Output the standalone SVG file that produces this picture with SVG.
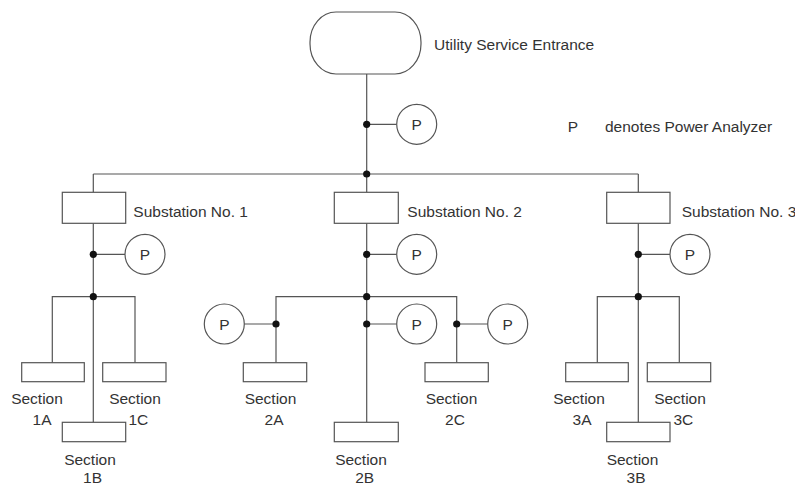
<svg xmlns="http://www.w3.org/2000/svg" width="795" height="485" viewBox="0 0 795 485">
<style>
.ln{stroke:#555;stroke-width:1.2;fill:none}
.bx{stroke:#555;stroke-width:1.2;fill:#fff}
.dot{fill:#111}
text{font-family:"Liberation Sans",Arial,sans-serif;font-size:15.5px;fill:#333}
.c{text-anchor:middle}
</style>
<rect width="795" height="485" fill="#fff"/>
<g id="connectors">
<path class="ln" d="M366.7,74V192.3M366.7,124.3H396.7M93.3,174H638.3M93.3,174V192.3M638.3,174V192.3"/>
<path class="ln" d="M93.3,223.3V422.3M93.3,254.3H125M52.3,362.7V296.7H135V362.7"/>
<path class="ln" d="M366.7,223.3V422.3M366.7,254.3H396.7M276,362.7V296.7H456.7V362.7M244.3,324H276M366.7,324H396.7M456.7,324H487.7"/>
<path class="ln" d="M638.3,223.3V422.3M638.3,254.3H670M597.3,362.7V296.7H679.3V362.7"/>
<circle class="dot" cx="366.7" cy="124.3" r="3.6"/>
<circle class="dot" cx="366.7" cy="174" r="3.6"/>
<circle class="dot" cx="93.3" cy="254.3" r="3.6"/>
<circle class="dot" cx="93.3" cy="296.7" r="3.6"/>
<circle class="dot" cx="366.7" cy="254.3" r="3.6"/>
<circle class="dot" cx="366.7" cy="296.7" r="3.6"/>
<circle class="dot" cx="276" cy="324" r="3.6"/>
<circle class="dot" cx="366.7" cy="324" r="3.6"/>
<circle class="dot" cx="456.7" cy="324" r="3.6"/>
<circle class="dot" cx="638.3" cy="254.3" r="3.6"/>
<circle class="dot" cx="638.3" cy="296.7" r="3.6"/>
</g>
<g id="utility">
<rect class="bx" x="310" y="12" width="111" height="62" rx="26" ry="30"/>
<text x="434" y="50">Utility Service Entrance</text>
</g>
<g id="legend">
<text x="567.7" y="132">P</text>
<text x="605" y="132">denotes Power Analyzer</text>
</g>
<g id="p0"><circle class="bx" cx="416.7" cy="124.3" r="20"/><text class="c" x="416.7" y="130">P</text></g>
<g id="sub1"><rect class="bx" x="62.3" y="192.3" width="63.4" height="31"/><text x="133.3" y="217">Substation No. 1</text></g>
<g id="sub2"><rect class="bx" x="334.3" y="192.3" width="64" height="31"/><text x="407.3" y="217">Substation No. 2</text></g>
<g id="sub3"><rect class="bx" x="606.7" y="192.3" width="63.3" height="31"/><text x="681.7" y="217">Substation No. 3</text></g>
<g id="p1"><circle class="bx" cx="145" cy="254.3" r="20"/><text class="c" x="145" y="260">P</text></g>
<g id="p2"><circle class="bx" cx="416.7" cy="254.3" r="20"/><text class="c" x="416.7" y="260">P</text></g>
<g id="p3"><circle class="bx" cx="690" cy="254.3" r="20"/><text class="c" x="690" y="260">P</text></g>
<g id="p2a"><circle class="bx" cx="224.3" cy="324" r="20"/><text class="c" x="224.3" y="329.7">P</text></g>
<g id="p2b"><circle class="bx" cx="416.7" cy="324" r="20"/><text class="c" x="416.7" y="329.7">P</text></g>
<g id="p2c"><circle class="bx" cx="507.7" cy="324" r="20"/><text class="c" x="507.7" y="329.7">P</text></g>
<g id="sec1a"><rect class="bx" x="21.7" y="362.7" width="62.6" height="19"/><text class="c" x="37" y="404">Section</text><text class="c" x="42" y="425">1A</text></g>
<g id="sec1c"><rect class="bx" x="102.7" y="362.7" width="63.3" height="19"/><text class="c" x="135" y="404">Section</text><text class="c" x="138.3" y="425">1C</text></g>
<g id="sec1b"><rect class="bx" x="62.3" y="422.3" width="63.4" height="19.4"/><text class="c" x="90" y="464.6">Section</text><text class="c" x="92.5" y="483">1B</text></g>
<g id="sec2a"><rect class="bx" x="243.3" y="362.7" width="63.4" height="19"/><text class="c" x="270.5" y="404">Section</text><text class="c" x="274" y="425">2A</text></g>
<g id="sec2c"><rect class="bx" x="425" y="362.7" width="63.3" height="19"/><text class="c" x="451.5" y="404">Section</text><text class="c" x="455" y="425">2C</text></g>
<g id="sec2b"><rect class="bx" x="334.3" y="422.3" width="64" height="19.4"/><text class="c" x="361" y="464.6">Section</text><text class="c" x="364.7" y="483">2B</text></g>
<g id="sec3a"><rect class="bx" x="565.7" y="362.7" width="62.6" height="19"/><text class="c" x="579" y="404">Section</text><text class="c" x="582" y="425">3A</text></g>
<g id="sec3c"><rect class="bx" x="647.3" y="362.7" width="63.4" height="19"/><text class="c" x="680" y="404">Section</text><text class="c" x="683.3" y="425">3C</text></g>
<g id="sec3b"><rect class="bx" x="606.7" y="422.3" width="63.3" height="19.4"/><text class="c" x="632.5" y="464.6">Section</text><text class="c" x="636" y="483">3B</text></g>
</svg>
